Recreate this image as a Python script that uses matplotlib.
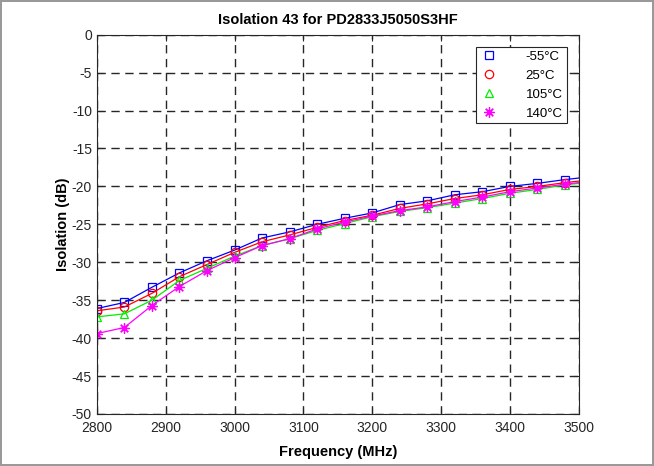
import numpy as np
import matplotlib.pyplot as plt
from matplotlib.lines import Line2D

plt.rcParams['font.family'] = ['Liberation Sans', 'DejaVu Sans']
plt.rcParams['axes.unicode_minus'] = False

# frequency points (MHz), markers every 40 MHz, line continues to 3500
freq = [2800, 2840, 2880, 2920, 2960, 3000, 3040, 3080, 3120, 3160,
        3200, 3240, 3280, 3320, 3360, 3400, 3440, 3480, 3500]

iso_m55 = [-36.1, -35.3, -33.3, -31.4, -29.8, -28.4, -26.8, -26.0, -25.0, -24.2,
           -23.5, -22.4, -21.9, -21.1, -20.7, -20.0, -19.6, -19.1, -18.9]
iso_25 = [-36.4, -35.9, -34.1, -31.9, -30.3, -28.7, -27.3, -26.4, -25.4, -24.5,
          -23.8, -22.9, -22.3, -21.6, -21.1, -20.4, -20.0, -19.5, -19.3]
iso_105 = [-37.2, -36.8, -35.0, -32.4, -30.8, -29.2, -27.8, -26.9, -25.8, -24.9,
           -24.0, -23.3, -22.8, -22.2, -21.6, -20.9, -20.4, -19.8, -19.6]
iso_140 = [-39.4, -38.6, -35.7, -33.2, -31.1, -29.4, -27.8, -26.9, -25.6, -24.7,
           -23.9, -23.2, -22.7, -22.0, -21.4, -20.7, -20.2, -19.7, -19.5]

labels = ['-55°C', '25°C', '105°C', '140°C']
colors = ['#0000ff', '#ff0000', '#00ee00', '#ff00ff']
markers = ['s', 'o', '^', (8, 2, 0)]

fig = plt.figure(figsize=(6.54, 4.66), dpi=100)
fig.patch.set_edgecolor('0.6')
fig.patch.set_linewidth(1.5)
ax = fig.add_axes([0.148, 0.1116, 0.737, 0.814])

series = [iso_m55, iso_25, iso_105, iso_140]
handles = []
for y, c, m, lab in zip(series, colors, markers, labels):
    ms = 7.5 if m == (8, 2, 0) else 6
    ax.plot(freq, y, color=c, lw=0.9, marker=m, ms=ms, mfc='none', mec=c,
            mew=0.9, markevery=list(range(18)))
    handles.append(Line2D([], [], ls='none', marker=m, ms=ms, mfc='none',
                          mec=c, mew=0.9, label=lab))

ax.set_xlim(2800, 3500)
ax.set_ylim(-50, 0)
ax.set_xticks(np.arange(2800, 3501, 100))
ax.set_yticks(np.arange(-50, 1, 5))
ax.grid(True, color='0.15', ls=(0, (6, 4)), lw=1)
ax.tick_params(direction='in', length=4, labelsize=10, top=True, right=True,
               colors='0.15', labelcolor='0.15')
ax.tick_params(axis='x', pad=5)
for s in ax.spines.values():
    s.set_color('0.15')

ax.set_title('Isolation 43 for PD2833J5050S3HF', fontsize=10.5,
             fontweight='bold', pad=8)
ax.set_xlabel('Frequency (MHz)', fontsize=10.5, fontweight='bold', labelpad=7)
ax.set_ylabel('Isolation (dB)', fontsize=10.5, fontweight='bold', labelpad=1)

leg = ax.legend(handles=handles, loc='upper right', fontsize=9.5,
                bbox_to_anchor=(0.975, 0.968), borderaxespad=0,
                fancybox=False, framealpha=1, edgecolor='0.15',
                handletextpad=2.0, labelspacing=0.5, borderpad=0.3,
                handlelength=1.5)
leg.get_frame().set_linewidth(0.8)

fig.savefig('out.png', dpi=100)
